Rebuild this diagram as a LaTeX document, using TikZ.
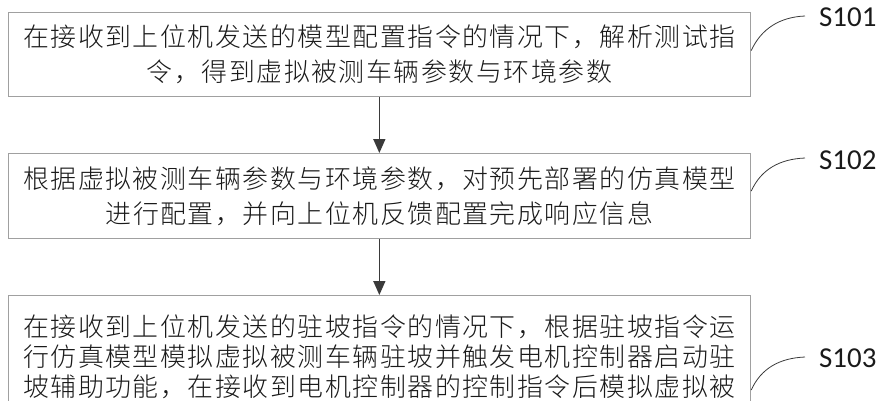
\documentclass[tikz,border=0pt]{standalone}
\usepackage{fontspec}
\newfontfamily\cjk[LetterSpace=6]{Noto Sans CJK SC Light}
\newfontfamily\lbl{Carlito}
\usetikzlibrary{arrows.meta}
\definecolor{boxgray}{HTML}{A0A0A0}
\definecolor{arrowgray}{HTML}{3A3A3A}
\definecolor{txt}{HTML}{1A1A1A}
\begin{document}
\begin{tikzpicture}[x=1bp,y=-1bp,
  stepbox/.style={draw=boxgray, line width=1.2bp, rectangle, anchor=north west,
    minimum width=742.5bp, inner sep=0pt, align=center, text=txt,
    font=\cjk\fontsize{26}{35}\selectfont},
  flow/.style={draw=arrowgray, line width=1.6bp, -{Triangle[length=14bp,width=12bp]}},
  leader/.style={draw=arrowgray, line width=0.8bp},
  steplabel/.style={anchor=west, inner sep=0pt, text=txt, font=\lbl\fontsize{29}{32}\selectfont}]
\useasboundingbox (0,0) rectangle (881,400);
\clip (0,0) rectangle (881,400);

\node[stepbox, minimum height=84bp] (box1) at (7.5,12)
  {在接收到上位机发送的模型配置指令的情况下，解析测试指\\令，得到虚拟被测车辆参数与环境参数};
\node[stepbox, minimum height=85bp] (box2) at (7.5,153)
  {根据虚拟被测车辆参数与环境参数，对预先部署的仿真模型\\进行配置，并向上位机反馈配置完成响应信息};
\node[stepbox, inner ysep=19bp, font=\cjk\fontsize{26}{30}\selectfont] (box3) at (7.5,295)
  {在接收到上位机发送的驻坡指令的情况下，根据驻坡指令运\\行仿真模型模拟虚拟被测车辆驻坡并触发电机控制器启动驻\\坡辅助功能，在接收到电机控制器的控制指令后模拟虚拟被};

\draw[flow] (box1.south) -- (box2.north);
\draw[flow] (box2.south) -- (box3.north);

\node[steplabel] (s1) at (819,17) {S101};
\node[steplabel] (s2) at (819,160) {S102};
\node[steplabel] (s3) at (819,358) {S103};
\coordinate (e1) at (805,16);
\coordinate (e2) at (805,158);
\coordinate (e3) at (805,357);
\draw[leader] ([yshift=4bp]box1.east) .. controls +(10,-22) and +(-25,1) .. (e1);
\draw[leader] ([yshift=5bp]box2.east) .. controls +(10,-22) and +(-25,1) .. (e2);
\draw[leader] ([yshift=-95bp]box3.north east) .. controls +(10,-22) and +(-25,1) .. (e3);
\end{tikzpicture}
\end{document}
